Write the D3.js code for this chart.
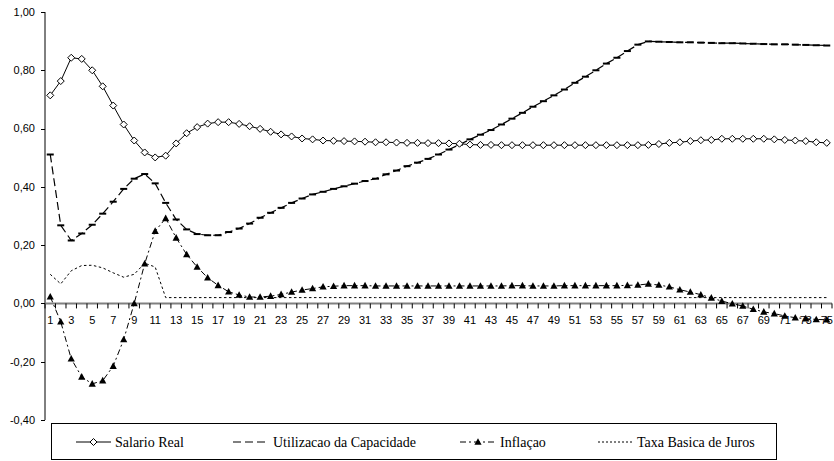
<!DOCTYPE html>
<html>
<head>
<meta charset="utf-8">
<script src="https://cdn.jsdelivr.net/npm/d3@7"></script>
<style>
    body { margin: 0; background: #fff; }
    svg { display: block; }
</style>
</head>
<body>
<div class="chart"></div>
<script>
'use strict';

const periods = d3.range(1, 76);

const salarioReal = [
    0.714, 0.763, 0.843, 0.839, 0.800, 0.745, 0.679, 0.614, 0.559, 0.518,
    0.501, 0.507, 0.549, 0.584, 0.605, 0.617, 0.622, 0.622, 0.616, 0.608,
    0.599, 0.589, 0.580, 0.573, 0.566, 0.563, 0.559, 0.558, 0.557, 0.556,
    0.555, 0.553, 0.553, 0.552, 0.551, 0.551, 0.550, 0.550, 0.549, 0.548,
    0.545, 0.544, 0.544, 0.543, 0.543, 0.543, 0.543, 0.543, 0.543, 0.543,
    0.543, 0.543, 0.543, 0.543, 0.543, 0.543, 0.543, 0.544, 0.547, 0.551,
    0.553, 0.557, 0.560, 0.561, 0.565, 0.565, 0.565, 0.565, 0.565, 0.563,
    0.561, 0.559, 0.557, 0.553, 0.551
];

const utilizacao = [
    0.511, 0.268, 0.216, 0.240, 0.270, 0.308, 0.349, 0.393, 0.428, 0.444,
    0.412, 0.345, 0.288, 0.254, 0.238, 0.234, 0.234, 0.245, 0.257, 0.274,
    0.294, 0.311, 0.328, 0.345, 0.360, 0.374, 0.383, 0.393, 0.402, 0.411,
    0.420, 0.428, 0.443, 0.456, 0.471, 0.483, 0.496, 0.511, 0.528, 0.545,
    0.563, 0.579, 0.595, 0.614, 0.634, 0.654, 0.675, 0.694, 0.714, 0.734,
    0.757, 0.778, 0.800, 0.823, 0.843, 0.866, 0.888, 0.899, 0.898, 0.897,
    0.896, 0.896, 0.895, 0.894, 0.893, 0.893, 0.892, 0.891, 0.890, 0.889,
    0.889, 0.888, 0.887, 0.886, 0.885
];

const inflacao = [
    0.023, -0.063, -0.190, -0.252, -0.276, -0.265, -0.215, -0.124, 0.000, 0.136,
    0.248, 0.292, 0.225, 0.168, 0.125, 0.088, 0.062, 0.040, 0.029, 0.022,
    0.022, 0.025, 0.031, 0.039, 0.046, 0.051, 0.057, 0.059, 0.061, 0.061,
    0.061, 0.060, 0.060, 0.060, 0.060, 0.060, 0.060, 0.060, 0.060, 0.060,
    0.060, 0.060, 0.060, 0.060, 0.061, 0.061, 0.060, 0.060, 0.060, 0.061,
    0.061, 0.061, 0.061, 0.061, 0.061, 0.062, 0.063, 0.067, 0.063, 0.057,
    0.047, 0.039, 0.030, 0.019, 0.008, -0.001, -0.009, -0.020, -0.029, -0.035,
    -0.043, -0.049, -0.052, -0.055, -0.056
];

const taxaJuros = [
    0.100, 0.067, 0.112, 0.130, 0.131, 0.122, 0.105, 0.090, 0.100, 0.138,
    0.125, 0.020, 0.020, 0.020, 0.020, 0.020, 0.020, 0.020, 0.020, 0.020,
    0.020, 0.020, 0.020, 0.020, 0.020, 0.020, 0.020, 0.020, 0.020, 0.020,
    0.020, 0.020, 0.020, 0.020, 0.020, 0.020, 0.020, 0.020, 0.020, 0.020,
    0.020, 0.020, 0.020, 0.020, 0.020, 0.020, 0.020, 0.020, 0.020, 0.020,
    0.020, 0.020, 0.020, 0.020, 0.020, 0.020, 0.020, 0.020, 0.020, 0.020,
    0.020, 0.020, 0.020, 0.020, 0.020, 0.020, 0.020, 0.020, 0.020, 0.020,
    0.020, 0.020, 0.020, 0.020, 0.020
];

const yTicks = [-0.4, -0.2, 0, 0.2, 0.4, 0.6, 0.8, 1.0];

const seriesNames = ['Salario Real', 'Utilizacao da Capacidade', 'Inflaçao', 'Taxa Basica de Juros'];

const width = 834;
const height = 461;

const svg = d3.select('.chart')
    .append('svg')
    .attr('width', width)
    .attr('height', height);

const x = d3.scaleBand().domain(periods).range([45, 832]);
const y = d3.scaleLinear().domain([-0.4, 1.0]).range([420, 12]);
const cx = (d) => x(d) + x.bandwidth() / 2;

const locale = d3.formatLocale({decimal: ',', thousands: '.', grouping: [3], currency: ['', ''], minus: '-'});
const fmt = locale.format('.2f');

const axisFont = '"Liberation Sans", Arial, sans-serif';
const legendFont = '"Liberation Serif", "Times New Roman", serif';

// y axis
svg.append('line')
    .attr('x1', 45).attr('x2', 45)
    .attr('y1', y(1.0)).attr('y2', y(-0.4))
    .attr('stroke', '#000').attr('stroke-width', 1);

svg.selectAll('.ytick')
    .data(yTicks)
    .enter().append('line')
    .attr('class', 'ytick')
    .attr('x1', 41).attr('x2', 45)
    .attr('y1', (d) => Math.round(y(d)) + 0.5)
    .attr('y2', (d) => Math.round(y(d)) + 0.5)
    .attr('stroke', '#000');

svg.selectAll('.ylabel')
    .data(yTicks)
    .enter().append('text')
    .attr('class', 'ylabel')
    .attr('x', 35)
    .attr('y', (d) => y(d))
    .attr('dy', '0.35em')
    .attr('text-anchor', 'end')
    .style('font-family', axisFont)
    .style('font-size', '11px')
    .attr('fill', '#000')
    .text((d) => fmt(d));

// x axis (at zero)
svg.append('line')
    .attr('x1', 45).attr('x2', 832)
    .attr('y1', y(0)).attr('y2', y(0))
    .attr('stroke', '#808080').attr('stroke-width', 2);

svg.selectAll('.xtick')
    .data(periods.concat([76]))
    .enter().append('line')
    .attr('class', 'xtick')
    .attr('x1', (d) => (d === 76 ? 832 : x(d)))
    .attr('x2', (d) => (d === 76 ? 832 : x(d)))
    .attr('y1', y(0)).attr('y2', y(0) + 5)
    .attr('stroke', '#000').attr('stroke-width', 1);

svg.selectAll('.xlabel')
    .data(periods.filter((d) => d % 2 === 1))
    .enter().append('text')
    .attr('class', 'xlabel')
    .attr('x', cx)
    .attr('y', y(0) + 21)
    .attr('text-anchor', 'middle')
    .style('font-family', axisFont)
    .style('font-size', '11px')
    .attr('fill', '#000')
    .text((d) => d);

// series
const line = (vals) => d3.line()
    .x((d, i) => cx(periods[i]))
    .y((d) => y(d))(vals);

const diamond = 'M0,-3.5L3.5,0L0,3.5L-3.5,0Z';
const triangle = 'M0,-3.8L3.6,2.8L-3.6,2.8Z';

svg.append('path')
    .attr('d', line(taxaJuros))
    .attr('fill', 'none').attr('stroke', '#000')
    .attr('stroke-width', 1).attr('stroke-dasharray', '2.5,2.5');

svg.append('path')
    .attr('d', line(inflacao))
    .attr('fill', 'none').attr('stroke', '#000')
    .attr('stroke-width', 1).attr('stroke-dasharray', '6,3,2,3');

svg.append('path')
    .attr('d', line(utilizacao))
    .attr('fill', 'none').attr('stroke', '#000')
    .attr('stroke-width', 1.2).attr('stroke-dasharray', '8,4');

svg.append('path')
    .attr('d', line(salarioReal))
    .attr('fill', 'none').attr('stroke', '#000')
    .attr('stroke-width', 1);

svg.selectAll('.m-util')
    .data(utilizacao)
    .enter().append('rect')
    .attr('class', 'm-util')
    .attr('x', (d, i) => cx(periods[i]) - 3.5)
    .attr('y', (d) => y(d) - 1)
    .attr('width', 7).attr('height', 2)
    .attr('fill', '#000');

svg.selectAll('.m-infl')
    .data(inflacao)
    .enter().append('path')
    .attr('class', 'm-infl')
    .attr('d', triangle)
    .attr('transform', (d, i) => 'translate(' + cx(periods[i]) + ',' + y(d) + ')')
    .attr('fill', '#000');

svg.selectAll('.m-sal')
    .data(salarioReal)
    .enter().append('path')
    .attr('class', 'm-sal')
    .attr('d', diamond)
    .attr('transform', (d, i) => 'translate(' + cx(periods[i]) + ',' + y(d) + ')')
    .attr('fill', '#fff').attr('stroke', '#000').attr('stroke-width', 1);

// legend
const legend = svg.append('g');
legend.append('rect')
    .attr('x', 51.5).attr('y', 423.5)
    .attr('width', 725).attr('height', 36)
    .attr('fill', '#fff').attr('stroke', '#000').attr('stroke-width', 1);

const legendItems = [
    {name: seriesNames[0], x0: 76, x1: 111, tx: 115, dash: null, width: 1, marker: 'diamond'},
    {name: seriesNames[1], x0: 233, x1: 269, tx: 273, dash: '8,4', width: 1.2, marker: null},
    {name: seriesNames[2], x0: 460, x1: 496, tx: 500, dash: '6,3,2,3', width: 1, marker: 'triangle'},
    {name: seriesNames[3], x0: 598, x1: 634, tx: 637, dash: '2,2', width: 1, marker: null}
];
const ly = 442;

legendItems.forEach((it) => {
    legend.append('line')
        .attr('x1', it.x0).attr('x2', it.x1)
        .attr('y1', ly).attr('y2', ly)
        .attr('stroke', '#000')
        .attr('stroke-width', it.width)
        .attr('stroke-dasharray', it.dash);
    const mx = (it.x0 + it.x1) / 2;
    if (it.marker === 'diamond') {
        legend.append('path').attr('d', diamond)
            .attr('transform', 'translate(' + mx + ',' + ly + ')')
            .attr('fill', '#fff').attr('stroke', '#000');
    } else if (it.marker === 'triangle') {
        legend.append('path').attr('d', triangle)
            .attr('transform', 'translate(' + mx + ',' + ly + ')')
            .attr('fill', '#000');
    }
    legend.append('text')
        .attr('x', it.tx).attr('y', ly)
        .attr('dy', '0.33em')
        .style('font-family', legendFont)
        .style('font-size', '14px')
        .attr('fill', '#000')
        .text(it.name);
});
</script>
</body>
</html>
